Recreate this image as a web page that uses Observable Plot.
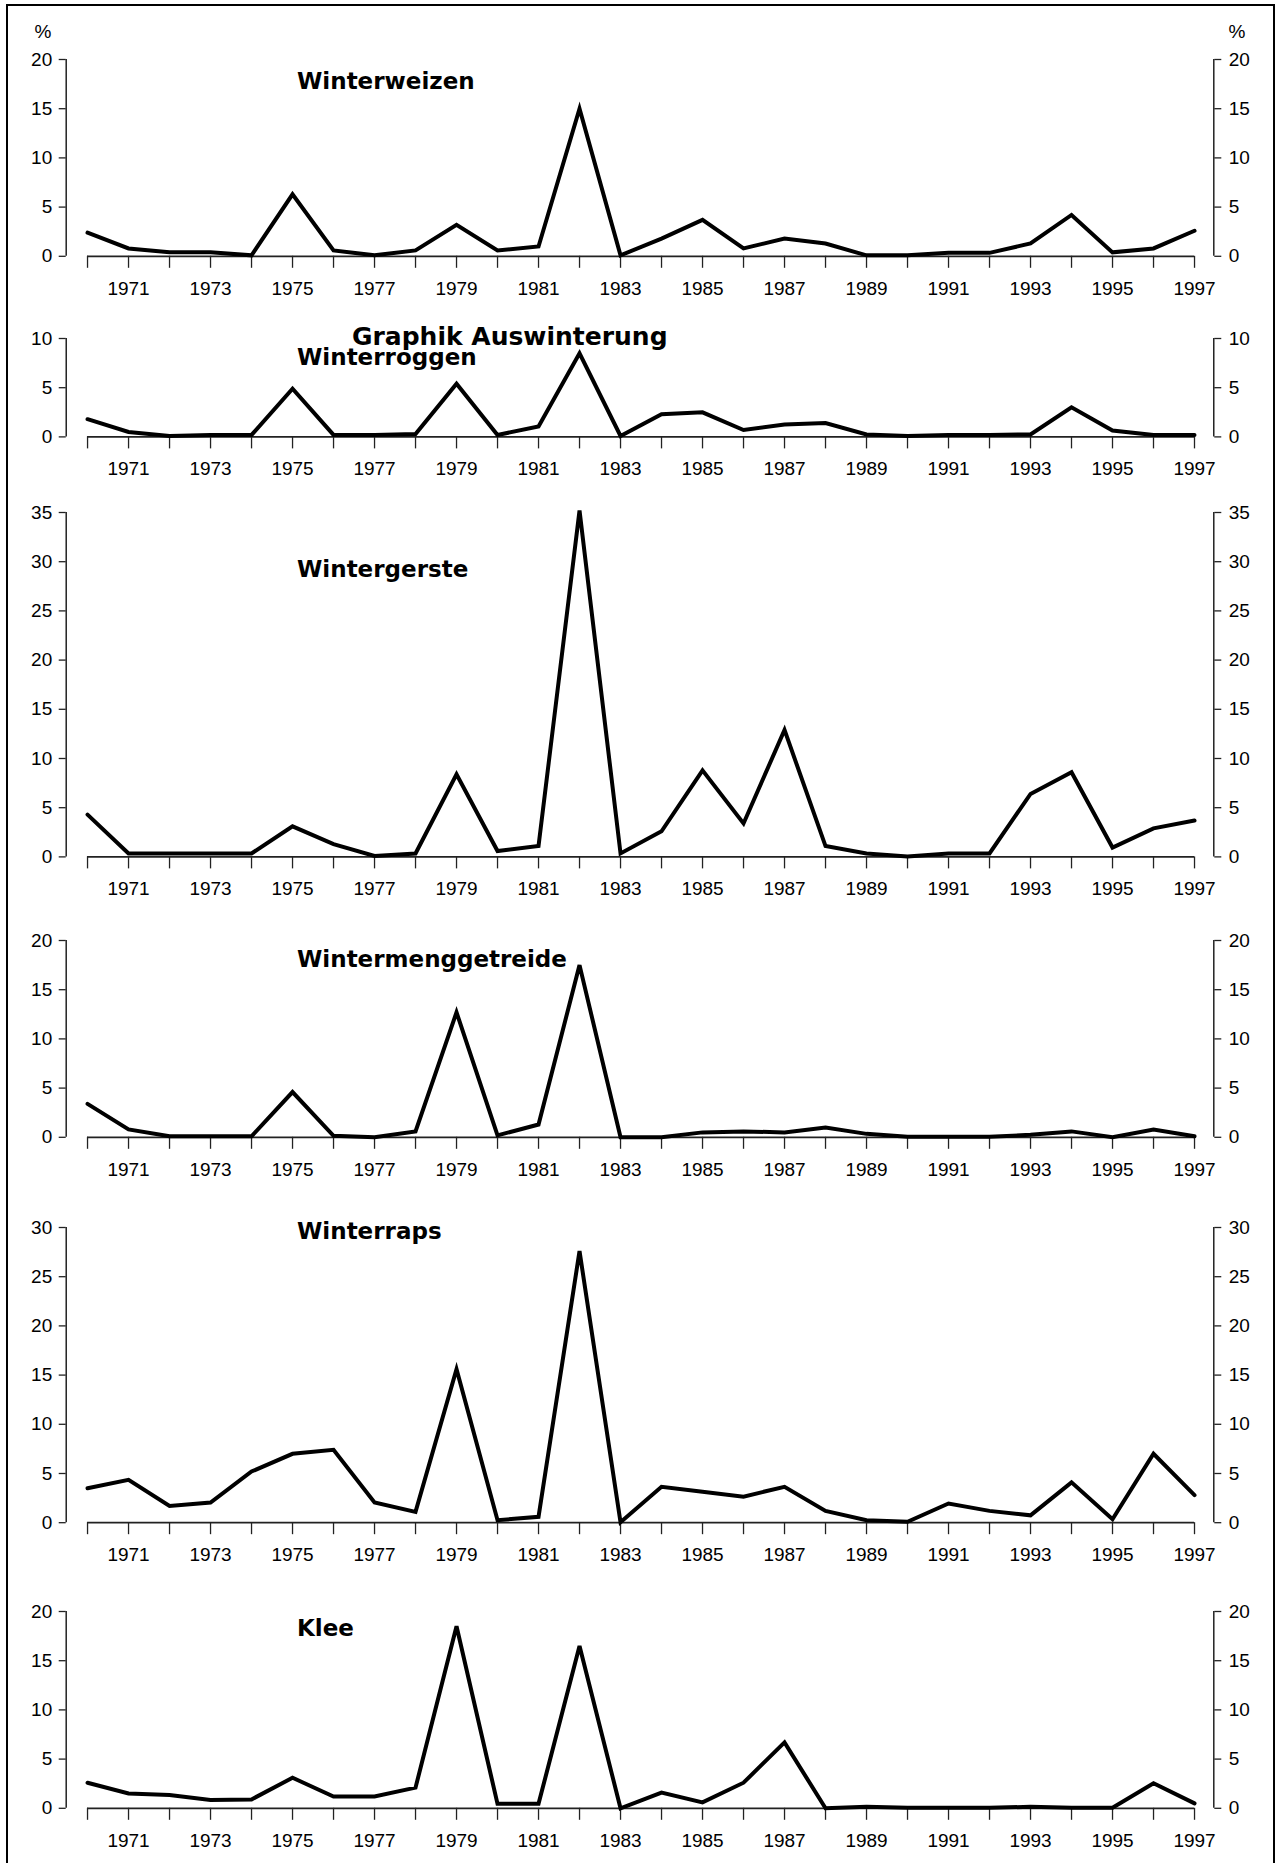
<!DOCTYPE html>
<html>
<head>
<meta charset="utf-8">
<script src="https://cdn.jsdelivr.net/npm/d3@7"></script>
<script src="https://cdn.jsdelivr.net/npm/@observablehq/plot@0.6"></script>
<style>
  html, body { margin: 0; padding: 0; background: #fff; overflow: hidden; }
  body { width: 1276px; height: 1863px; position: relative; }
  #frame { position: absolute; left: 6px; top: 4px; width: 1269px; height: 1900px;
           border: 2.5px solid #000; box-sizing: border-box; }
</style>
</head>
<body>
<div id="frame"></div>
<script>
// ---------------- data ----------------
const years = [1970,1971,1972,1973,1974,1975,1976,1977,1978,1979,1980,1981,1982,1983,
               1984,1985,1986,1987,1988,1989,1990,1991,1992,1993,1994,1995,1996,1997];
const labelYears = [1971,1973,1975,1977,1979,1981,1983,1985,1987,1989,1991,1993,1995,1997];

const winterweizen = [2.4,0.8,0.4,0.4,0.1,6.3,0.6,0.1,0.6,3.2,0.6,1.0,15.0,0.1,
                      1.8,3.7,0.8,1.8,1.3,0.1,0.1,0.35,0.35,1.3,4.2,0.4,0.8,2.6];
const winterroggen = [1.8,0.5,0.1,0.2,0.2,4.9,0.2,0.2,0.3,5.4,0.2,1.05,8.5,0.1,
                      2.3,2.5,0.7,1.25,1.4,0.25,0.1,0.2,0.2,0.25,3.0,0.65,0.2,0.2];
const wintergerste = [4.3,0.35,0.35,0.35,0.35,3.1,1.3,0.1,0.35,8.4,0.6,1.1,35.2,0.35,
                      2.6,8.8,3.4,12.9,1.1,0.35,0.05,0.35,0.35,6.4,8.6,0.95,2.9,3.7];
const wintermenggetreide = [3.4,0.8,0.1,0.1,0.1,4.6,0.15,0.0,0.6,12.7,0.2,1.3,17.5,0.0,
                            0.0,0.5,0.6,0.5,1.0,0.35,0.05,0.05,0.05,0.25,0.6,0.0,0.8,0.1];
const winterraps = [3.5,4.35,1.7,2.05,5.2,7.0,7.4,2.05,1.1,15.6,0.25,0.6,27.6,0.05,
                    3.65,3.15,2.65,3.65,1.2,0.25,0.1,1.95,1.2,0.75,4.1,0.35,7.0,2.8];
const klee = [2.6,1.5,1.35,0.85,0.9,3.1,1.2,1.2,2.1,18.5,0.45,0.45,16.5,0.0,
              1.6,0.6,2.6,6.7,0.0,0.15,0.05,0.05,0.05,0.15,0.05,0.05,2.55,0.5];

const ticksWeizen = [0,5,10,15,20];
const ticksRoggen = [0,5,10];
const ticksGerste = [0,5,10,15,20,25,30,35];
const ticksMeng = [0,5,10,15,20];
const ticksRaps = [0,5,10,15,20,25,30];
const ticksKlee = [0,5,10,15,20];

const panelTitles = ["Winterweizen","Winterroggen","Wintergerste","Wintermenggetreide","Winterraps","Klee"];
const mainTitle = "Graphik Auswinterung";
const unitLabel = "%";

// ---------------- layout ----------------
const W = 1276;
const K = 9.84;              // px per percent unit (same in all panels)
const MT = 15, MB = 55;
const ML = 65.7, MR = W - 1213.3;
const PADL = 0.52, PADR = 0.47;
const AX = "#222";
const tickFont = "'Liberation Sans', Arial, Helvetica, sans-serif";
const titleFont = "'DejaVu Sans', Verdana, sans-serif";

const panels = [
  {values: winterweizen,       ticks: ticksWeizen, zeroY: 255.5,  titleY: 89.3},
  {values: winterroggen,       ticks: ticksRoggen, zeroY: 436,    titleY: 365},
  {values: wintergerste,       ticks: ticksGerste, zeroY: 856.5,  titleY: 577},
  {values: wintermenggetreide, ticks: ticksMeng,   zeroY: 1137,   titleY: 967},
  {values: winterraps,         ticks: ticksRaps,   zeroY: 1522,   titleY: 1239},
  {values: klee,               ticks: ticksKlee,   zeroY: 1807.5, titleY: 1636}
];

const xDomain = [years[0] - PADL, years[years.length - 1] + PADR];
const fmt = d => String(d);

panels.forEach((p, i) => {
  const yMax = p.ticks[p.ticks.length - 1];
  const plotH = yMax * K;
  const rows = years.map((year, j) => ({year, value: p.values[j]}));
  const chart = Plot.plot({
    width: W,
    height: MT + plotH + MB,
    marginTop: MT, marginBottom: MB, marginLeft: ML, marginRight: MR,
    x: {domain: xDomain, axis: null, label: null},
    y: {domain: [0, yMax], axis: null, label: null},
    style: {
      position: "absolute", left: "0px", top: (p.zeroY - plotH - MT) + "px",
      background: "transparent", overflow: "visible",
      fontFamily: tickFont, fontSize: "19px", color: "#000"
    },
    marks: [
      Plot.ruleY([0], {x1: years[0], x2: years[years.length - 1], stroke: AX, strokeWidth: 1.7}),
      Plot.axisX(years, {anchor: "bottom", label: null, tickSize: 12, tickPadding: 13, stroke: AX, strokeWidth: 1.3,
                         fill: "#000", tickFormat: d => labelYears.includes(d) ? String(d) : ""}),
      Plot.ruleX([xDomain[0]], {y1: 0, y2: yMax, stroke: AX, strokeWidth: 1.5}),
      Plot.ruleX([xDomain[1]], {y1: 0, y2: yMax, stroke: AX, strokeWidth: 1.5}),
      Plot.axisY(p.ticks, {anchor: "left", label: null, tickSize: 7, tickPadding: 7, stroke: AX, strokeWidth: 1.3,
                           fill: "#000", tickFormat: fmt}),
      Plot.axisY(p.ticks, {anchor: "right", label: null, tickSize: 7, tickPadding: 8, stroke: AX, strokeWidth: 1.3,
                           fill: "#000", tickFormat: fmt}),
      Plot.line(rows, {x: "year", y: "value", stroke: "#000", strokeWidth: 4,
                       strokeLinejoin: "miter", strokeMiterlimit: 4})
    ]
  });
  document.body.appendChild(chart);
});

// ---------------- text overlay ----------------
const overlay = d3.select("body").append("svg")
  .attr("width", W).attr("height", 1863)
  .style("position", "absolute").style("left", "0px").style("top", "0px")
  .style("pointer-events", "none");

overlay.selectAll("text.ptitle").data(panelTitles).join("text")
  .attr("class", "ptitle")
  .attr("x", 297).attr("y", (d, i) => panels[i].titleY)
  .attr("font-family", titleFont).attr("font-weight", "bold").attr("font-size", 23)
  .attr("fill", "#000")
  .text(d => d);

overlay.append("text")
  .attr("x", 352).attr("y", 345)
  .attr("font-family", titleFont).attr("font-weight", "bold").attr("font-size", 25)
  .attr("fill", "#000")
  .text(mainTitle);

overlay.append("text")
  .attr("x", 51.5).attr("y", 38).attr("text-anchor", "end")
  .attr("font-family", tickFont).attr("font-size", 19).attr("fill", "#000")
  .text(unitLabel);
overlay.append("text")
  .attr("x", 1228.5).attr("y", 38).attr("text-anchor", "start")
  .attr("font-family", tickFont).attr("font-size", 19).attr("fill", "#000")
  .text(unitLabel);
</script>
</body>
</html>
